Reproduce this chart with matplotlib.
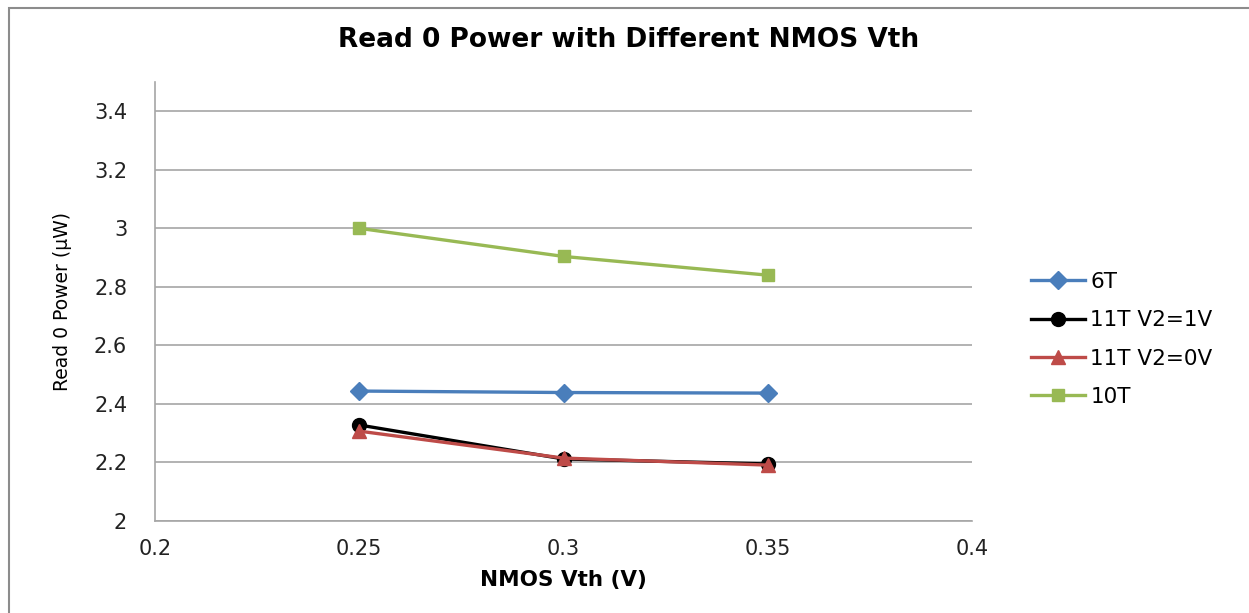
import matplotlib.pyplot as plt
from matplotlib.patches import Rectangle

vth = [0.25, 0.3, 0.35]
power_6t = [2.444, 2.439, 2.437]
power_11t_1v = [2.328, 2.212, 2.195]
power_11t_0v = [2.307, 2.215, 2.191]
power_10t = [3.0, 2.904, 2.840]

labels = ["6T", "11T V2=1V", "11T V2=0V", "10T"]
colors = ["#4A7EBB", "#000000", "#BE4B48", "#98B954"]
markers = ["D", "o", "^", "s"]
msizes = [9, 10, 10, 9]

W, H = 1249, 613
fig = plt.figure(figsize=(W / 100, H / 100), dpi=100)

# chart frame
fig.patches.append(Rectangle((8.5 / W, -0.05), 1.2, 1 - 8.5 / H + 0.05,
                             transform=fig.transFigure, fill=False,
                             edgecolor="#8C8C8C", linewidth=1.5))

ax = fig.add_axes([155 / W, 1 - 521 / H, (972 - 155) / W, (521 - 82) / H])

series = [power_6t, power_11t_1v, power_11t_0v, power_10t]
for ys, lab, c, m, ms in zip(series, labels, colors, markers, msizes):
    ax.plot(vth, ys, color=c, marker=m, markersize=ms, linewidth=2.4,
            label=lab, markeredgecolor=c)

ax.set_xlim(0.2, 0.4)
ax.set_ylim(2, 3.5)
ax.set_xticks([0.2, 0.25, 0.3, 0.35, 0.4])
ax.set_xticklabels(["0.2", "0.25", "0.3", "0.35", "0.4"])
ax.set_yticks([2, 2.2, 2.4, 2.6, 2.8, 3, 3.2, 3.4])
ax.set_yticklabels(["2", "2.2", "2.4", "2.6", "2.8", "3", "3.2", "3.4"])
ax.grid(axis="y", color="#A6A6A6", linewidth=1.2)
ax.set_axisbelow(True)
for s in ["top", "right"]:
    ax.spines[s].set_visible(False)
for s in ["left", "bottom"]:
    ax.spines[s].set_color("#A6A6A6")
    ax.spines[s].set_linewidth(1.2)
ax.tick_params(length=0, labelsize=15, colors="#222222", pad=13)
ax.tick_params(axis="y", pad=20)

ax.set_xlabel("NMOS Vth (V)", fontsize=15.5, fontweight="bold", labelpad=8)
ax.set_ylabel("Read 0 Power (\u00b5W)", fontsize=13.5, labelpad=16)

fig.text(0.5035, 1 - 40 / H, "Read 0 Power with Different NMOS Vth",
         ha="center", va="center", fontsize=19, fontweight="bold")

fig.legend(loc="upper left", bbox_to_anchor=(1031 / W, 1 - 272 / H),
           frameon=False, fontsize=15.5, handlelength=2.5, handletextpad=0.25,
           labelspacing=0.85, borderpad=0, borderaxespad=0)

fig.savefig("out.png", dpi=100)
